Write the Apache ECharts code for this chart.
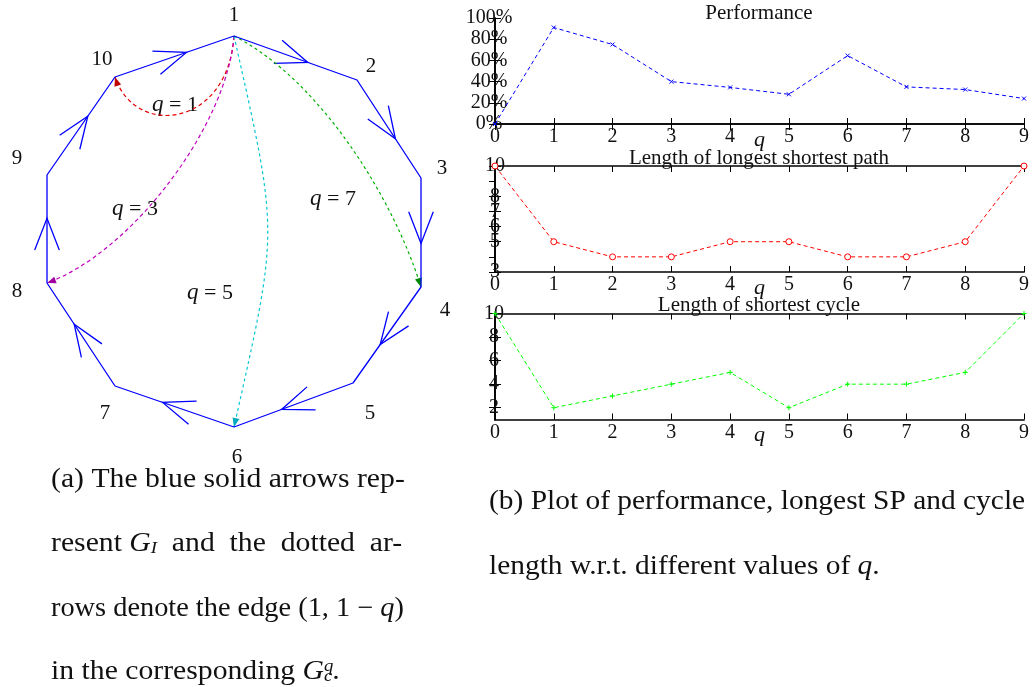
<!DOCTYPE html>
<html>
<head>
<meta charset="utf-8">
<title>G_I graph and q plots</title>
<script src="https://cdn.jsdelivr.net/npm/echarts@6/dist/echarts.min.js"></script>
<style>
html,body{margin:0;padding:0;background:#fff;}
#main{width:1033px;height:687px;}
</style>
</head>
<body>
<div id="main"></div>
<script>
/* data */
// nodes 1..10 of the ring, in picture units
var nodeNames = ['1','2','3','4','5','6','7','8','9','10'];
var nodeX = [234, 357, 421, 421, 353, 234, 115, 47, 47, 115];
var nodeY = [36, 80, 178, 287, 383, 427, 386, 283, 175, 77];
var labelX = [234, 371, 442, 445, 370, 237, 105, 17, 17, 102];
var labelY = [15, 66, 168, 310, 413, 457, 413, 291, 158, 59];

// dotted edges (1, 1-q)
var qValues = [1, 3, 5, 7];
var qTarget = [9, 7, 5, 3]; // index into node arrays: 10, 8, 6, 4
var qLabelX = [175, 135, 210, 333];
var qLabelY = [105, 209, 293, 199];

// plots on the right
var qAxis = [0, 1, 2, 3, 4, 5, 6, 7, 8, 9];
var performance = [0, 91, 75, 40, 34.5, 28, 64.5, 35, 32.5, 24];
var longestSP = [10, 5, 4, 4, 5, 5, 4, 4, 5, 10];
var shortestCycle = [10, 2, 3, 4, 5, 2, 4, 4, 5, 10];
/* data end */

var FONT = '"Liberation Serif", "DejaVu Serif", serif';
var INK = '#111';

// bend of each dotted arc (control point offsets, px)
var curveStyle = [
	{color:'#e00000', head:'#c00000', out:[-6,92], inn:[20,61], dash:[4,3]},
	{color:'#c000c0', head:'#a000a0', out:[-7,90], inn:[85,-31], dash:[4,3]},
	{color:'#00c8d0', head:'#00a8c0', out:[45,200], inn:[45,-200], dash:[3,3]},
	{color:'#00b000', head:'#008800', out:[85,43], inn:[-28,-90], dash:[3,3]}
];

function chevron(params, api){
	var i=params.dataIndex, j=(i+1)%nodeX.length;
	var a=api.coord([nodeX[i],nodeY[i]]), b=api.coord([nodeX[j],nodeY[j]]);
	var tip=[a[0]+(b[0]-a[0])*0.6, a[1]+(b[1]-a[1])*0.6];
	var ang=Math.atan2(a[1]-b[1], a[0]-b[0]);
	var arm=function(d){ return [tip[0]+34*Math.cos(ang+d), tip[1]+34*Math.sin(ang+d)]; };
	return {
		type:'polyline',
		shape:{points:[arm(0.37), tip, arm(-0.37)]},
		style:{stroke:'#0000ff', fill:null, lineWidth:1.3}
	};
}

function dottedArc(params, api){
	var i=params.dataIndex, t=qTarget[i], s=curveStyle[i];
	var p0=api.coord([nodeX[0],nodeY[0]]), p3=api.coord([nodeX[t],nodeY[t]]);
	var c1=[p0[0]+s.out[0], p0[1]+s.out[1]];
	var c2=[p3[0]+s.inn[0], p3[1]+s.inn[1]];
	var dx=p3[0]-c2[0], dy=p3[1]-c2[1], len=Math.sqrt(dx*dx+dy*dy);
	var ux=dx/len, uy=dy/len;
	var bx=p3[0]-9*ux, by=p3[1]-9*uy;
	return {
		type:'group',
		children:[
			{type:'bezierCurve',
				shape:{x1:p0[0],y1:p0[1],x2:p3[0],y2:p3[1],cpx1:c1[0],cpy1:c1[1],cpx2:c2[0],cpy2:c2[1]},
				style:{stroke:s.color, fill:null, lineWidth:1.2, lineDash:s.dash}},
			{type:'polygon',
				shape:{points:[[p3[0],p3[1]],[bx-3.5*uy,by+3.5*ux],[bx+3.5*uy,by-3.5*ux]]},
				style:{fill:s.head}}
		]
	};
}

function nodeLabel(params, api){
	var i=params.dataIndex;
	var p=api.coord([labelX[i],labelY[i]]);
	return {type:'text', x:p[0], y:p[1],
		style:{text:nodeNames[i], fill:INK, fontFamily:FONT, fontSize:21,
			align:'center', verticalAlign:'middle', textAlign:'center', textVerticalAlign:'middle'}};
}

function qLabel(params, api){
	var i=params.dataIndex;
	var p=api.coord([qLabelX[i],qLabelY[i]]);
	return {type:'text', x:p[0], y:p[1],
		style:{text:'{i|q} = '+qValues[i], fill:INK, fontFamily:FONT, fontSize:22,
			align:'center', verticalAlign:'middle', textAlign:'center', textVerticalAlign:'middle',
			rich:{i:{fontStyle:'italic', fontFamily:FONT, fontSize:23, fill:INK}}}};
}

var plotTops=[18, 166, 313.5];

var grids=[{left:0, top:0, width:480, height:480}];
plotTops.forEach(function(t){ grids.push({left:495, top:t, width:529, height:106}); });

var axisLine={show:true, lineStyle:{color:'#000', width:1.7}};
var tickIn={show:true, inside:true, length:6, lineStyle:{color:'#000', width:1}};
var tickFont={color:INK, fontFamily:FONT, fontSize:20, showMinLabel:true, showMaxLabel:true};

var xAxes=[{gridIndex:0, type:'value', min:0, max:480, show:false}];
var yAxes=[{gridIndex:0, type:'value', min:0, max:480, inverse:true, show:false}];
for (var g=1; g<=3; g++) {
	xAxes.push({gridIndex:g, type:'value', min:0, max:9, interval:1, position:'bottom',
		axisLine:axisLine, axisTick:tickIn, splitLine:{show:false},
		axisLabel:Object.assign({margin:3}, tickFont),
		name:'q', nameLocation:'middle', nameGap:5, nameMoveOverlap:false,
		nameTextStyle:{color:INK, fontFamily:FONT, fontStyle:'italic', fontSize:22}});
}
for (var g=1; g<=3; g++) {
	xAxes.push({gridIndex:g, type:'value', min:0, max:9, interval:1, position:'top',
		axisLine:axisLine, axisTick:tickIn, splitLine:{show:false}, axisLabel:{show:false}});
}
var cycleTicks=[2,4,6,8,10];
yAxes.push({gridIndex:1, type:'value', min:0, max:100, interval:20,
	axisLine:axisLine, axisTick:tickIn, splitLine:{show:false},
	axisLabel:Object.assign({align:'center', margin:6, formatter:'{value}%', hideOverlap:false}, tickFont)});
yAxes.push({gridIndex:2, type:'value', min:3, max:10, interval:1,
	axisLine:axisLine, axisTick:tickIn, splitLine:{show:false},
	axisLabel:Object.assign({align:'center', margin:0, hideOverlap:false}, tickFont)});
yAxes.push({gridIndex:3, type:'value', min:1, max:10,
	axisLine:axisLine, axisTick:Object.assign({customValues:cycleTicks}, tickIn), splitLine:{show:false},
	axisLabel:Object.assign({align:'center', margin:1, customValues:cycleTicks, hideOverlap:false}, tickFont)});
yAxes.push({gridIndex:1, type:'value', min:0, max:100, interval:20, position:'right',
	axisLine:axisLine, axisTick:tickIn, splitLine:{show:false}, axisLabel:{show:false}});
yAxes.push({gridIndex:2, type:'value', min:3, max:10, interval:1, position:'right',
	axisLine:axisLine, axisTick:tickIn, splitLine:{show:false}, axisLabel:{show:false}});
yAxes.push({gridIndex:3, type:'value', min:1, max:10, position:'right',
	axisLine:axisLine, axisTick:Object.assign({customValues:cycleTicks}, tickIn), splitLine:{show:false}, axisLabel:{show:false}});

function pairs(vals){ return qAxis.map(function(q,i){ return [q, vals[i]]; }); }

var ring=nodeX.map(function(x,i){ return [x, nodeY[i]]; });
ring.push([nodeX[0], nodeY[0]]);

var titleStyle={color:INK, fontFamily:FONT, fontSize:21, fontWeight:'normal', lineHeight:24};
var capFont='27px '+FONT;
var it={fontStyle:'italic', fontSize:27, fontFamily:FONT, fill:INK};
var small={fontStyle:'italic', fontSize:17, fontFamily:FONT, fill:INK, lineHeight:8};

var myChart=echarts.init(document.getElementById('main'));
var option={
	animation:false,
	backgroundColor:'#fff',
	title:[
		{text:'Performance', left:759, top:1, textAlign:'center', padding:0, textStyle:titleStyle},
		{text:'Length of longest shortest path', left:759, top:146, textAlign:'center', padding:0, textStyle:titleStyle},
		{text:'Length of shortest cycle', left:759, top:293, textAlign:'center', padding:0, textStyle:titleStyle}
	],
	grid:grids,
	xAxis:xAxes,
	yAxis:yAxes,
	series:[
		{type:'line', xAxisIndex:0, yAxisIndex:0, data:ring, symbol:'none', clip:false,
			lineStyle:{color:'#0000ff', width:1.3}},
		{type:'custom', xAxisIndex:0, yAxisIndex:0, data:ring.slice(0,10), renderItem:chevron, clip:false},
		{type:'custom', xAxisIndex:0, yAxisIndex:0, data:qValues.map(function(q,i){ return [qLabelX[i], qLabelY[i]]; }), renderItem:dottedArc, clip:false, z:3},
		{type:'custom', xAxisIndex:0, yAxisIndex:0, data:labelX.map(function(x,i){ return [x, labelY[i]]; }), renderItem:nodeLabel, clip:false},
		{type:'custom', xAxisIndex:0, yAxisIndex:0, data:qLabelX.map(function(x,i){ return [x, qLabelY[i]]; }), renderItem:qLabel, clip:false},
		{name:'Performance', type:'line', xAxisIndex:1, yAxisIndex:1, data:pairs(performance), clip:false,
			lineStyle:{color:'#0000ff', width:1, type:[4,3]},
			symbol:'path://M0,0L10,10M10,0L0,10', symbolSize:4,
			itemStyle:{color:'transparent', borderColor:'#0000ff', borderWidth:1}},
		{name:'Length of longest shortest path', type:'line', xAxisIndex:2, yAxisIndex:2, data:pairs(longestSP), clip:false,
			lineStyle:{color:'#ff0000', width:1, type:[4,3]},
			symbol:'circle', symbolSize:6,
			itemStyle:{color:'#fff', borderColor:'#ff0000', borderWidth:1}},
		{name:'Length of shortest cycle', type:'line', xAxisIndex:3, yAxisIndex:3, data:pairs(shortestCycle), clip:false,
			lineStyle:{color:'#00ff00', width:1, type:[4,3]},
			symbol:'path://M5,0L5,10M0,5L10,5', symbolSize:5,
			itemStyle:{color:'transparent', borderColor:'#00ff00', borderWidth:1}}
	],
	graphic:[
		{type:'text', x:51, y:466, scaleX:1.1, style:{text:'(a) The blue solid arrows rep-', fill:INK, font:capFont}},
		{type:'text', x:51, y:530, scaleX:1.1, style:{text:'resent {g|G}{sub|I}  and  the  dotted  ar-', fill:INK, font:capFont,
			rich:{g:it, sub:Object.assign({verticalAlign:'bottom'}, small)}}},
		{type:'text', x:51, y:595, scaleX:1.05, style:{text:'rows denote the edge (1, 1 \u2212 {i|q})', fill:INK, font:capFont,
			rich:{i:it}}},
		{type:'text', x:51, y:658, scaleX:1.1, style:{text:'in the corresponding {g|G}{sup|q}{sub|c}.', fill:INK, font:capFont,
			rich:{g:it, sup:Object.assign({verticalAlign:'top', width:0}, small), sub:Object.assign({verticalAlign:'bottom'}, small)}}},
		{type:'text', x:489, y:488, scaleX:1.09, style:{text:'(b) Plot of performance, longest SP and cycle', fill:INK, font:capFont}},
		{type:'text', x:489, y:553, scaleX:1.09, style:{text:'length w.r.t. different values of {i|q}.', fill:INK, font:capFont,
			rich:{i:it}}}
	]
};
myChart.setOption(option);
</script>
</body>
</html>
